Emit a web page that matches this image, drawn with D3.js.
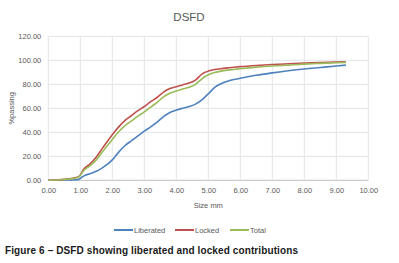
<!DOCTYPE html>
<html>
<head>
<meta charset="utf-8">
<script src="https://cdn.jsdelivr.net/npm/d3@7"></script>
<style>
  body { margin: 0; background: #fff; }
  text { font-family: "Liberation Sans", Arial, sans-serif; }
</style>
</head>
<body>
<div id="chart"></div>
<script>
// sizes (mm) shared by all three series
var sizes = [0, 0.5, 0.9, 1.0, 1.1, 1.3, 1.5, 1.7, 2.0, 2.2, 2.4, 2.6, 2.8, 3.0, 3.2, 3.4, 3.6, 3.8,
  4.0, 4.2, 4.4, 4.6, 4.8, 4.9, 5.0, 5.2, 5.4, 5.6, 5.8, 6.0, 6.5, 7.0, 7.5, 8.0, 8.5, 9.0, 9.3];

var liberated = [0, 0.2, 0.5, 1.5, 3.5, 5.5, 7.5, 10.5, 17, 23.5, 29, 33, 37, 41, 44.5, 48.5, 53, 56.5,
  58.5, 60, 61.5, 63.5, 67, 69.5, 72, 77.5, 80.5, 82.5, 84, 85, 87.5, 89.5, 91.3, 92.8, 94, 95.2, 96];
var locked = [0, 0.8, 2.5, 4.5, 9, 13.5, 19.5, 27, 38, 44.5, 50, 54, 58, 61.5, 65.5, 69, 73.5, 76.5,
  78, 79.5, 81, 83.5, 88.5, 90, 91, 92.3, 93, 93.7, 94.2, 94.7, 95.7, 96.5, 97.1, 97.7, 98.1, 98.5, 98.8];
var total = [0, 0.7, 2.2, 4, 8, 12, 17, 24, 34, 40.5, 45.5, 49.5, 53.5, 57, 61, 65, 69.5, 72.5,
  74.5, 76, 77.5, 80, 84.5, 86.5, 88, 89.8, 91, 91.8, 92.4, 93, 94.3, 95.2, 96, 96.8, 97.4, 98, 98.3];

var seriesNames = ["Liberated", "Locked", "Total"];
var xTicks = [0, 1, 2, 3, 4, 5, 6, 7, 8, 9, 10];
var yTicks = [0, 20, 40, 60, 80, 100, 120];

var w = 399, h = 263;
var plotL = 48.3, plotR = 368.3, plotT = 36.3, plotB = 180.3;

var color = d3.scaleOrdinal()
  .domain(seriesNames)
  .range(["#4f81bd", "#c0504d", "#9bbb59"]);

var series = [liberated, locked, total].map(function (vals, i) {
  return { name: seriesNames[i], values: vals.map(function (v, j) { return [sizes[j], v]; }) };
});

var svg = d3.select("#chart").append("svg")
  .attr("width", w)
  .attr("height", h);

var xScale = d3.scaleLinear().domain([0, 10]).range([plotL, plotR]);
var yScale = d3.scaleLinear().domain([0, 120]).range([plotB, plotT]);

// gridlines
svg.append("g").selectAll("line")
  .data(yTicks)
  .enter().append("line")
  .attr("x1", plotL).attr("x2", plotR)
  .attr("y1", d => yScale(d)).attr("y2", d => yScale(d))
  .attr("stroke", d => d === 0 ? "#bfbfbf" : "#e3e6e8")
  .attr("stroke-width", 1);

svg.append("g").selectAll("line")
  .data(xTicks)
  .enter().append("line")
  .attr("x1", d => xScale(d)).attr("x2", d => xScale(d))
  .attr("y1", plotT).attr("y2", plotB)
  .attr("stroke", "#e3e6e8")
  .attr("stroke-width", 1);

// axes (labels only)
var xAxis = d3.axisBottom(xScale).tickValues(xTicks).tickFormat(d3.format(".2f")).tickSize(0).tickPadding(7);
svg.append("g")
  .attr("transform", "translate(0," + plotB + ")")
  .call(xAxis)
  .call(g => g.select(".domain").remove())
  .selectAll("text")
  .attr("fill", "#595959")
  .style("font-size", "7.5px");

var yAxis = d3.axisLeft(yScale).tickValues(yTicks).tickFormat(d3.format(".2f")).tickSize(0).tickPadding(7);
svg.append("g")
  .attr("transform", "translate(" + plotL + ",0)")
  .call(yAxis)
  .call(g => g.select(".domain").remove())
  .selectAll("text")
  .attr("fill", "#595959")
  .style("font-size", "7.5px");

// lines
var line = d3.line()
  .x(d => xScale(d[0]))
  .y(d => yScale(d[1]))
  .curve(d3.curveMonotoneX);

svg.append("g").selectAll("path")
  .data(series)
  .enter().append("path")
  .attr("fill", "none")
  .attr("stroke", d => color(d.name))
  .attr("stroke-width", 1.6)
  .attr("d", d => line(d.values));

// title and axis titles
svg.append("text")
  .attr("x", 189).attr("y", 21)
  .attr("text-anchor", "middle")
  .attr("fill", "#595959")
  .style("font-size", "11.5px")
  .text("DSFD");

svg.append("text")
  .attr("x", (plotL + plotR) / 2).attr("y", 208)
  .attr("text-anchor", "middle")
  .attr("fill", "#595959")
  .style("font-size", "7.5px")
  .text("Size mm");

svg.append("text")
  .attr("transform", "translate(14," + ((plotT + plotB) / 2) + ") rotate(-90)")
  .attr("text-anchor", "middle")
  .attr("fill", "#595959")
  .style("font-size", "7.5px")
  .text("%passing");

// legend
var legendX = [114, 175, 230];
var legend = svg.append("g").selectAll("g")
  .data(seriesNames)
  .enter().append("g")
  .attr("transform", (d, i) => "translate(" + legendX[i] + ",230)");
legend.append("line")
  .attr("x1", 0).attr("x2", 19)
  .attr("stroke", d => color(d))
  .attr("stroke-width", 2);
legend.append("text")
  .attr("x", 20).attr("y", 2.6)
  .attr("fill", "#595959")
  .style("font-size", "7.5px")
  .text(d => d);

// caption
svg.append("text")
  .attr("x", 5).attr("y", 254)
  .attr("fill", "#1a1a1a")
  .style("font-size", "10px")
  .style("font-weight", "bold")
  .attr("textLength", 293)
  .text("Figure 6 \u2013 DSFD showing liberated and locked contributions");
</script>
</body>
</html>
